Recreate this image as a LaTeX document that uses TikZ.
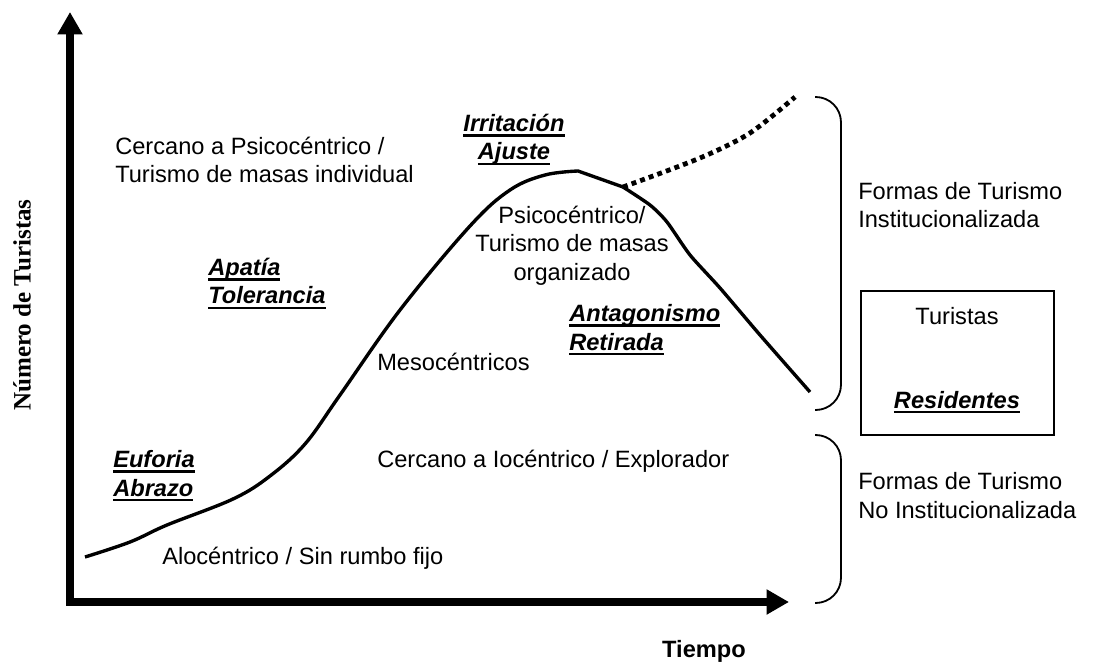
\documentclass[tikz,border=0pt]{standalone}
\usepackage{fontspec}
\setmainfont{Liberation Sans}
\newfontfamily\serifbold{Liberation Serif}
\usetikzlibrary{arrows.meta}

% thick underline for the phase labels
\newcommand{\ulin}[1]{\setbox0\hbox{#1}\rlap{\vrule height -1.8pt depth 3.9pt width \wd0}\box0}

\begin{document}
\begin{tikzpicture}[x=0.025cm, y=-0.025cm,
  lbl/.style={inner sep=0pt, font=\fontsize{16.8}{20}\selectfont},
  phase/.style={inner sep=0pt, font=\fontsize{16.8}{20}\selectfont\bfseries\itshape},
  axis/.style={line width=5pt, {Triangle[length=16pt,width=17pt]}-{Triangle[length=16pt,width=17pt]}},
  bracket/.style={line width=1.3pt, rounded corners=18pt}]
  \useasboundingbox (0,0) rectangle (1093,663);

  % Axes
  \coordinate (ytop) at (70,12);
  \coordinate (origin) at (70,602);
  \coordinate (xend) at (789,602);
  \draw[axis] (ytop) -- (origin) -- (xend);
  \node[inner sep=0pt, rotate=90, font=\fontsize{17.8}{20}\serifbold\bfseries] (ylabel) at (22,305) {Número de Turistas};
  \node[lbl, anchor=base, font=\fontsize{16.8}{20}\selectfont\bfseries] (tiempo) at (704,657) {Tiempo};

  % Tourist curve
  \coordinate (turn) at (623,187);
  \draw[line width=2.4pt, line join=round] plot[smooth, tension=0.6] coordinates {(85,557) (130,542) (167,525) (233,499) (270,476) (305,444) (340,395) (400,310) (470,226) (510,190) (545,175) (578,171)}
    -- (turn);
  \draw[line width=2.4pt, line join=round] plot[smooth, tension=0.4] coordinates {(turn) (650,205) (667,222) (690,255) (720,288) (760,335) (810,392)};
  \draw[line width=3.4pt, dash pattern=on 3.5pt off 3pt] plot[smooth] coordinates {(turn) (700,158) (750,133) (795,97)};

  % Phases of the residents (base = last line)
  \node[phase, anchor=base, align=center] (irrit) at (514,160) {\ulin{Irritación}\\\ulin{Ajuste}};
  \node[phase, anchor=base west, align=left] (apatia) at (208,304) {\ulin{Apatía}\\\ulin{Tolerancia}};
  \node[phase, anchor=base west, align=left] (euforia) at (113,496) {\ulin{Euforia}\\\ulin{Abrazo}};
  \node[phase, anchor=base west, align=left] (antag) at (569,350) {\ulin{Antagonismo}\\\ulin{Retirada}};

  % Types of tourists
  \node[lbl, anchor=base west, align=left] (cercpsi) at (115,183) {Cercano a Psicocéntrico /\\Turismo de masas individual};
  \node[lbl, anchor=base, align=center] (psico) at (572,280) {Psicocéntrico/\\Turismo de masas\\organizado};
  \node[lbl, anchor=base west] (meso) at (377,370) {Mesocéntricos};
  \node[lbl, anchor=base west] (ioc) at (377,467) {Cercano a Iocéntrico / Explorador};
  \node[lbl, anchor=base west] (aloc) at (162,564) {Alocéntrico / Sin rumbo fijo};

  % Brackets
  \draw[bracket] (815,97) -| (841,410) -- (815,410);
  \draw[bracket] (815,435) -| (841,603) -- (815,603);
  \node[lbl, anchor=base west, align=left] (inst) at (858,228) {Formas de Turismo\\Institucionalizada};
  \node[lbl, anchor=base west, align=left] (noinst) at (858,518) {Formas de Turismo\\No Institucionalizada};

  % Legend box
  \node[draw, line width=1.6pt, minimum width=4.825cm, minimum height=3.6cm] (legend) at (957.5,363) {};
  \node[lbl, anchor=base] (turistas) at (957,324) {Turistas};
  \node[phase, anchor=base] (resid) at (957,408) {\ulin{Residentes}};
\end{tikzpicture}
\end{document}
